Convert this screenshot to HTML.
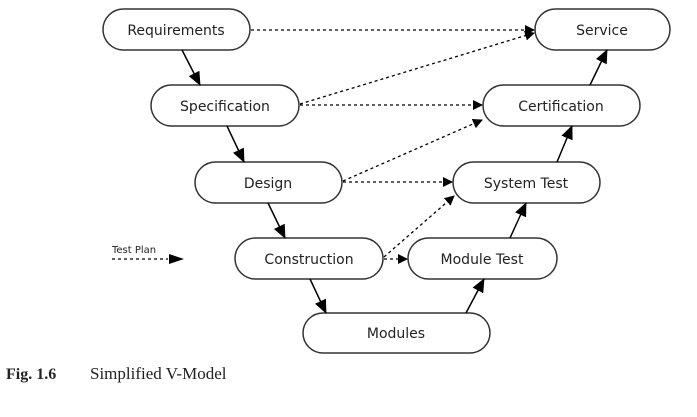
<!DOCTYPE html><html><head><style>body{margin:0;background:#fff}</style></head><body>
<svg width="697" height="412" xmlns="http://www.w3.org/2000/svg" font-family="'DejaVu Sans','Liberation Sans',sans-serif">
<defs><marker id="a" markerWidth="10" markerHeight="10" refX="9" refY="5" orient="auto" markerUnits="userSpaceOnUse"><path d="M0,0 L10,5 L0,10z" fill="#000"/></marker>
<marker id="b" markerWidth="14" markerHeight="12" refX="13" refY="6" orient="auto" markerUnits="userSpaceOnUse"><path d="M0,0 L14,6 L0,12z" fill="#000"/></marker></defs>
<g fill="#fff" stroke="#333" stroke-width="1.5">
<rect x="103" y="9" width="147" height="41" rx="20.5"/>
<rect x="151" y="85" width="148" height="41" rx="20.5"/>
<rect x="195" y="162" width="147" height="41" rx="20.5"/>
<rect x="235" y="238" width="148" height="41" rx="20.5"/>
<rect x="408" y="238" width="149" height="41" rx="20.5"/>
<rect x="303" y="313" width="187" height="40" rx="20"/>
<rect x="535" y="9" width="135" height="41" rx="20.5"/>
<rect x="483" y="85" width="157" height="41" rx="20.5"/>
<rect x="453" y="162" width="147" height="41" rx="20.5"/>
</g>
<g font-size="14" text-anchor="middle" fill="#222">
<text x="176" y="35">Requirements</text>
<text x="225" y="111">Specification</text>
<text x="268" y="188">Design</text>
<text x="309" y="264">Construction</text>
<text x="482" y="264">Module Test</text>
<text x="396" y="338">Modules</text>
<text x="602" y="35">Service</text>
<text x="561" y="111">Certification</text>
<text x="526" y="188">System Test</text>
</g>
<g stroke="#000" stroke-width="1.5" marker-end="url(#b)">
<line x1="182" y1="50" x2="200" y2="85"/>
<line x1="227" y1="126" x2="244" y2="162"/>
<line x1="268" y1="203" x2="285" y2="238"/>
<line x1="310" y1="279" x2="326" y2="313"/>
<line x1="466" y1="313" x2="484" y2="279"/>
<line x1="510" y1="238" x2="526" y2="203"/>
<line x1="557" y1="162" x2="572" y2="126"/>
<line x1="590" y1="85" x2="607" y2="50"/>
</g>
<g stroke="#000" stroke-width="1.3" stroke-dasharray="3,3" fill="none" marker-end="url(#a)">
<line x1="251" y1="30" x2="534" y2="30"/>
<line x1="300" y1="104" x2="534" y2="33"/>
<line x1="300" y1="105" x2="482" y2="105"/>
<line x1="343" y1="181" x2="482" y2="120"/>
<line x1="343" y1="182" x2="452" y2="182"/>
<line x1="384" y1="257" x2="454" y2="196"/>
<line x1="384" y1="259" x2="407" y2="259"/>
</g>
<text x="112" y="253" font-size="10" fill="#222">Test Plan</text>
<line x1="112" y1="259" x2="168" y2="259" stroke="#000" stroke-width="1.3" stroke-dasharray="3,3"/>
<path d="M169,254 L184,259 L169,264z" fill="#000"/>
<text x="6" y="379" font-family="'Liberation Serif',serif" font-size="16" fill="#222" font-weight="bold">Fig. 1.6</text>
<text x="90" y="379" font-family="'Liberation Serif',serif" font-size="17" fill="#222">Simplified V-Model</text>
</svg></body></html>
